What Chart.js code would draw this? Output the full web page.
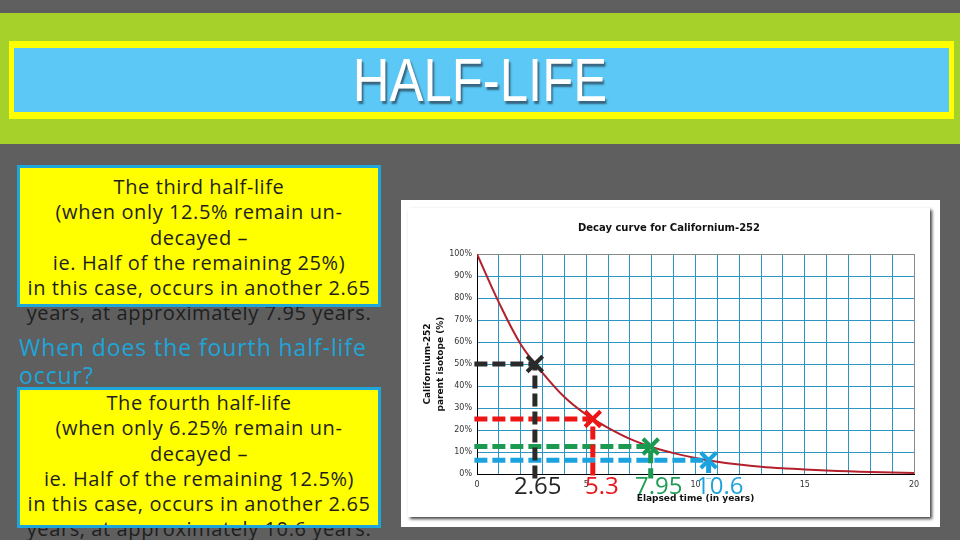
<!DOCTYPE html>
<html>
<head>
<meta charset="utf-8">
<script src="https://cdn.jsdelivr.net/npm/chart.js@4"></script>
<style>
  html, body { margin: 0; padding: 0; }
  body { width: 960px; height: 540px; background: #5f5f5f; position: relative; overflow: hidden; font-family: "Open Sans", "Lato", sans-serif; }
  .abs { position: absolute; }
  .band { left: 0; top: 13px; width: 960px; height: 131px; background: #a6d12b; }
  .titlebox { left: 9px; top: 41px; width: 935px; height: 64px; background: #5bc8f5; border: 7px solid #ffff00; border-left-width: 5px; border-right-width: 5px; }
  .title { left: 0; top: 45px; width: 960px; text-align: center; color: #fff; font-family: "Liberation Sans", sans-serif; font-weight: normal; font-size: 62px; line-height: 70px; transform: scaleX(0.82); text-shadow: 2px 3px 2px rgba(40,60,80,0.7); }
  .boxfill { background: #ffff00; }
  .boxline { border: 3px solid #1ea5d9; box-sizing: border-box; }
  .txt { text-align: center; color: #1e1e1e; font-size: 20px; letter-spacing: 0.6px; line-height: 25.3px; white-space: nowrap; }
  .question { left: 19px; top: 333px; color: #1ea5d9; font-size: 23px; letter-spacing: 0.9px; line-height: 28px; white-space: nowrap; }
  .frame { left: 401px; top: 200px; width: 539px; height: 327px; background: #fff; }
  #chartWrap { left: 408px; top: 208px; width: 522px; height: 309px; background: #fff; box-shadow: 2px 2px 3px rgba(0,0,0,0.75); }
  .big { font-size: 24px; line-height: 24px; white-space: nowrap; }
</style>
</head>
<body>
<div class="abs band"></div>
<div class="abs titlebox"></div>
<div class="abs title">HALF-LIFE</div>

<div class="abs boxfill" style="left:17px;top:165px;width:364px;height:142px"></div>
<div class="abs txt" style="left:17px;top:174px;width:364px">The third half-life<br>(when only 12.5% remain un-<br>decayed –<br>ie. Half of the remaining 25%)<br>in this case, occurs in another 2.65<br>years, at approximately 7.95 years.</div>
<div class="abs boxline" style="left:17px;top:165px;width:364px;height:142px"></div>

<div class="abs question">When does the fourth half-life<br>occur?</div>

<div class="abs boxfill" style="left:17px;top:387px;width:364px;height:141px"></div>
<div class="abs txt" style="left:17px;top:390px;width:364px">The fourth half-life<br>(when only 6.25% remain un-<br>decayed –<br>ie. Half of the remaining 12.5%)<br>in this case, occurs in another 2.65<br>years, at approximately 10.6 years.</div>
<div class="abs boxline" style="left:17px;top:387px;width:364px;height:141px"></div>

<div class="abs frame"></div>
<div class="abs" id="chartWrap"><canvas id="decay" width="522" height="309"></canvas></div>

<div class="abs big" style="left:514px;top:473px;color:#262626">2.65</div>
<div class="abs big" style="left:585px;top:473px;color:#e8161b">5.3</div>
<div class="abs big" style="left:635px;top:473px;color:#1f9d55">7.95</div>
<div class="abs big" style="left:696px;top:473px;color:#1fa3dd">10.6</div>

<script>
// elapsed time (years) and % of parent isotope left
var years = [0, 1, 2, 3, 4, 5, 6, 7, 8, 9, 10, 11, 12, 13, 14, 15, 16, 17, 18, 19, 20];
var remaining = [100, 78, 59, 46, 35, 27, 21, 16, 12.3, 9.5, 7.3, 5.6, 4.3, 3.3, 2.6, 2.1, 1.6, 1.2, 0.9, 0.7, 0.5];

// the four marked half-lives
var halfLifeYears = [2.65, 5.3, 7.95, 10.6];
var halfLifePercent = [50, 25, 12.5, 6.25];
var markColors = ['#2a2a2a', '#ee1515', '#1a9a50', '#1ba3e0'];

var yTicks = [0, 10, 20, 30, 40, 50, 60, 70, 80, 90, 100];
var xLabelled = [0, 5, 10, 15, 20];

var gridColor = '#2b96c4';
var edgeColor = '#8a8a8a';

var curve = years.map(function (t, i) { return { x: t, y: remaining[i] }; });

var datasets = [{
  label: 'Californium-252',
  data: curve,
  borderColor: '#b3202c',
  borderWidth: 2,
  pointRadius: 0,
  tension: 0.35,
  order: 10
}];

halfLifeYears.forEach(function (t, i) {
  var p = halfLifePercent[i];
  // dashed guide: from the y axis across to the point, then down past the x axis
  datasets.push({
    label: 'guide ' + t,
    data: [{ x: -0.12, y: p }, { x: t, y: p }, { x: t, y: -2 }],
    borderColor: markColors[i],
    borderWidth: 5,
    borderDash: [13, 5],
    borderCapStyle: 'butt',
    pointRadius: 0,
    clip: false,
    order: 2
  });
  datasets.push({
    label: 'half-life ' + t,
    data: [{ x: t, y: p }],
    borderColor: markColors[i],
    backgroundColor: markColors[i],
    pointStyle: 'crossRot',
    pointRadius: 11,
    pointBorderWidth: 4,
    showLine: false,
    clip: false,
    order: 1
  });
});

new Chart(document.getElementById('decay').getContext('2d'), {
  type: 'line',
  data: { datasets: datasets },
  options: {
    responsive: false,
    animation: false,
    devicePixelRatio: 1,
    layout: { padding: 0 },
    plugins: {
      legend: { display: false },
      tooltip: { enabled: false },
      title: {
        display: true,
        text: 'Decay curve for Californium-252',
        color: '#111',
        font: { family: 'DejaVu Sans', size: 10, weight: 'bold', lineHeight: 1.2 },
        padding: { top: 14, bottom: 20 }
      }
    },
    scales: {
      x: {
        type: 'linear',
        min: 0,
        max: 20,
        afterFit: function (s) { s.height = 43; },
        grid: {
          drawTicks: false,
          color: function (c) { return c.tick && c.tick.value === 20 ? edgeColor : gridColor; }
        },
        border: { color: '#000', width: 1 },
        ticks: {
          stepSize: 1,
          autoSkip: false,
          maxRotation: 0,
          padding: 6,
          color: '#333',
          font: { family: 'DejaVu Sans', size: 8 },
          callback: function (v) { return xLabelled.indexOf(v) >= 0 ? String(v) : ''; }
        },
        title: {
          display: true,
          text: 'Elapsed time (in years)',
          color: '#111',
          font: { family: 'DejaVu Sans', size: 9, weight: 'bold', lineHeight: 1.2 },
          padding: { top: 0, bottom: 13 }
        }
      },
      y: {
        min: 0,
        max: 100,
        afterFit: function (s) { s.width = 69; },
        afterBuildTicks: function (s) { s.ticks = yTicks.map(function (v) { return { value: v }; }); },
        grid: {
          drawTicks: false,
          color: function (c) { return c.tick && c.tick.value === 100 ? edgeColor : gridColor; }
        },
        border: { color: '#000', width: 1 },
        ticks: {
          padding: 5,
          color: '#333',
          font: { family: 'DejaVu Sans', size: 8 },
          callback: function (v) { return v + '%'; }
        },
        title: {
          display: true,
          text: ['Californium-252', 'parent isotope (%)'],
          color: '#111',
          font: { family: 'DejaVu Sans', size: 9, weight: 'bold', lineHeight: 1.35 },
          padding: { top: 14, bottom: 0 }
        }
      },
      // empty strip on the right so the plot stops short of the frame
      yRight: {
        position: 'right',
        min: 0,
        max: 100,
        afterFit: function (s) { s.width = 16; },
        grid: { display: false, drawTicks: false },
        border: { display: false },
        ticks: { display: false }
      }
    }
  }
});
</script>
</body>
</html>
